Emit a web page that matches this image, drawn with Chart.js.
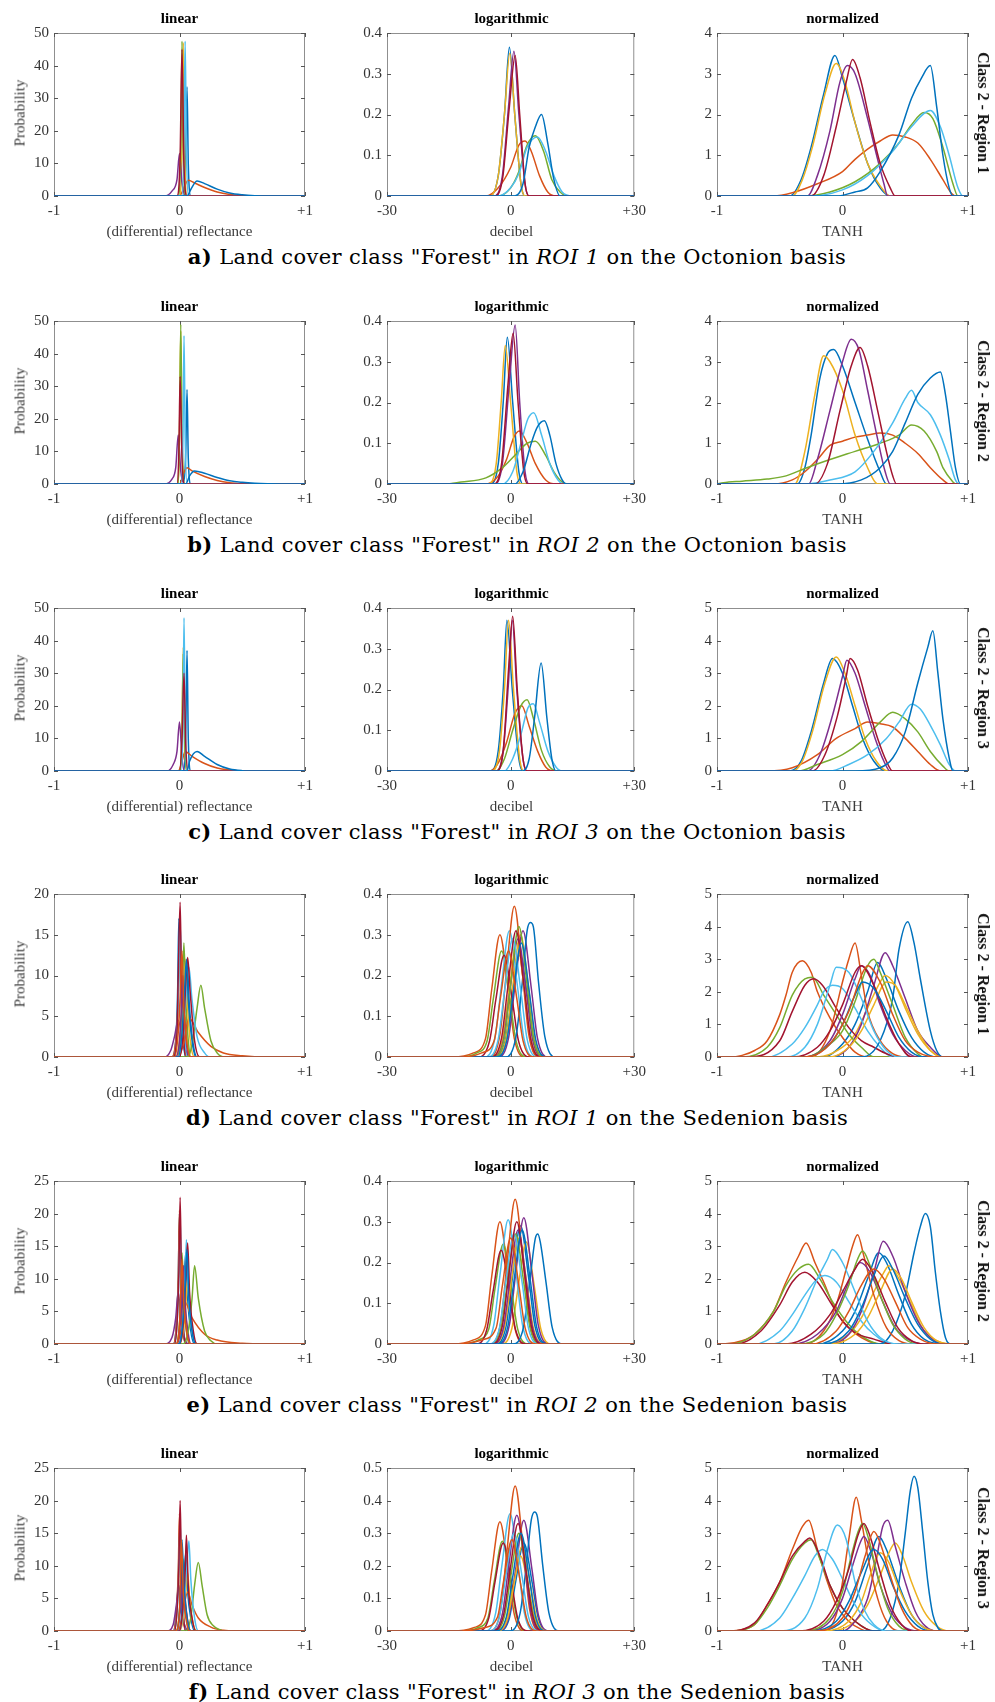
<!DOCTYPE html>
<html>
<head>
<meta charset="utf-8">
<script src="https://cdn.jsdelivr.net/npm/chart.js@4.4.1/dist/chart.umd.min.js"></script>
<style>
  body { margin: 0; background: #fff; }
  #page { position: relative; width: 995px; height: 1702px; overflow: hidden; }
  canvas { position: absolute; }
  .txt { position: absolute; transform: translate(-50%, -50%); white-space: nowrap;
         font-family: "Liberation Serif", "Times New Roman", serif; color: #222; }
  .ttl { font-weight: bold; font-size: 15px; color: #000; }
  .xl { font-size: 15px; color: #3a3a3a; }
  .yl { font-size: 15px; color: #3a3a3a; transform: translate(-50%, -50%) rotate(-90deg); }
  .rl { font-weight: bold; font-size: 16px; color: #111; transform: translate(-50%, -50%) rotate(90deg); }
  .cap { font-family: "DejaVu Serif", serif; font-size: 21px; letter-spacing: 0.4px; color: #000; }
</style>
</head>
<body>
<div id="page"></div>
<script>
// --- DATA: each curve is a flat list of key points [x, y, x, y, ...] ---
// curve order follows MATLAB colour order (blue, orange, yellow, purple, green, light blue, dark red, ...)

// a) ROI 1, Octonion
const linA = [
  [0.03,0, 0.05,12, 0.06,33.5, 0.07,10, 0.09,0],
  [0.0,0, 0.04,3, 0.07,4.8, 0.12,4, 0.2,2.6, 0.3,1.2, 0.4,0.45, 0.5,0.12, 0.6,0],
  [0.0,0, 0.02,15, 0.03,47, 0.04,15, 0.06,0],
  [-0.12,0, -0.06,1.5, -0.02,5, 0.0,13, 0.02,4, 0.05,0],
  [-0.01,0, 0.01,15, 0.02,47.5, 0.03,15, 0.05,0],
  [0.02,0, 0.035,15, 0.045,47.5, 0.055,15, 0.07,0],
  [-0.02,0, 0.005,12, 0.02,45, 0.035,10, 0.06,0],
  [0.06,0, 0.09,2, 0.14,4.6, 0.2,3.8, 0.3,2.1, 0.4,0.9, 0.5,0.35, 0.6,0.1, 0.7,0]
];
const logA = [
  [-5,0, -3,0.05, -1.5,0.2, -0.3,0.365, 1,0.2, 2.5,0.03, 3.5,0],
  [-6,0, -3,0.02, 0,0.07, 2,0.125, 3.5,0.135, 5,0.11, 7,0.05, 9,0.01, 11,0],
  [-5,0, -3,0.05, -1.5,0.2, -0.2,0.35, 1,0.2, 2.5,0.03, 3.5,0],
  [-4,0, -2,0.05, -0.5,0.22, 0.8,0.355, 2,0.2, 3.5,0.03, 4.5,0],
  [-3,0, 0,0.02, 2,0.06, 4,0.125, 6,0.148, 8,0.11, 10,0.04, 12,0.01, 14,0],
  [-3,0, 0,0.02, 2,0.055, 4,0.12, 6.5,0.145, 8.5,0.11, 10.5,0.05, 12.5,0.01, 15,0],
  [-4,0, -2,0.04, -0.3,0.22, 1.1,0.345, 2.2,0.2, 3.5,0.03, 4.5,0],
  [1,0, 3,0.03, 4.5,0.12, 6,0.17, 7.5,0.2, 9,0.13, 10.5,0.04, 12,0]
];
const nrmA = [
  [-0.42,0, -0.33,0.4, -0.25,1.2, -0.15,2.5, -0.06,3.45, 0.0,2.9, 0.1,1.8, 0.2,0.8, 0.3,0.2, 0.38,0],
  [-0.55,0, -0.4,0.08, -0.2,0.3, 0,0.6, 0.1,0.9, 0.2,1.15, 0.3,1.35, 0.4,1.5, 0.5,1.45, 0.6,1.3, 0.7,0.9, 0.8,0.4, 0.86,0.1, 0.9,0],
  [-0.4,0, -0.32,0.4, -0.24,1.2, -0.14,2.5, -0.05,3.25, 0.02,2.8, 0.1,1.8, 0.2,0.8, 0.3,0.25, 0.38,0],
  [-0.28,0, -0.2,0.5, -0.1,1.6, -0.02,2.8, 0.04,3.2, 0.1,3.0, 0.2,1.9, 0.28,0.9, 0.33,0.3, 0.36,0],
  [-0.3,0, -0.1,0.1, 0.1,0.35, 0.3,0.8, 0.45,1.3, 0.55,1.75, 0.65,2.05, 0.72,1.9, 0.8,1.2, 0.88,0.3, 0.92,0],
  [-0.25,0, 0,0.15, 0.2,0.5, 0.4,1.1, 0.55,1.7, 0.7,2.1, 0.78,1.7, 0.85,1.0, 0.92,0.2, 0.96,0],
  [-0.25,0, -0.15,0.5, -0.05,1.7, 0.03,2.8, 0.08,3.35, 0.14,2.9, 0.22,1.8, 0.3,0.8, 0.38,0.2, 0.42,0],
  [-0.05,0, 0.1,0.1, 0.2,0.2, 0.3,0.6, 0.45,1.5, 0.55,2.4, 0.63,2.9, 0.7,3.2, 0.75,2.2, 0.8,1.0, 0.85,0.2, 0.88,0]
];

// b) ROI 2, Octonion
const linB = [
  [0.03,0, 0.05,10, 0.06,29, 0.07,8, 0.09,0],
  [0.0,0, 0.03,3, 0.06,5, 0.1,4, 0.2,2.3, 0.3,1.1, 0.4,0.4, 0.5,0.1, 0.6,0],
  [-0.01,0, 0.0,15, 0.01,47, 0.02,15, 0.04,0],
  [-0.12,0, -0.06,1.5, -0.03,5, -0.01,15, 0.01,4, 0.04,0],
  [-0.01,0, 0.0,15, 0.01,49, 0.02,15, 0.04,0],
  [0.015,0, 0.028,15, 0.036,45.5, 0.045,15, 0.06,0],
  [-0.02,0, -0.005,10, 0.005,33, 0.02,8, 0.04,0],
  [0.05,0, 0.08,2.5, 0.12,4, 0.2,3.3, 0.3,2, 0.4,1, 0.5,0.5, 0.6,0.2, 0.7,0.05, 0.8,0]
];
const logB = [
  [-5,0, -3,0.05, -1.8,0.2, -0.8,0.36, 0.5,0.2, 2,0.03, 3,0],
  [-6,0, -3,0.02, -1,0.06, 0.8,0.115, 2.1,0.13, 4,0.1, 6,0.05, 8.5,0.01, 11,0],
  [-5.5,0, -3.5,0.05, -2.3,0.2, -1.3,0.34, 0,0.2, 1.5,0.03, 2.5,0],
  [-4,0, -2,0.05, -0.3,0.25, 1.1,0.39, 2.2,0.2, 3.5,0.03, 4.5,0],
  [-16,0, -12,0.005, -6,0.015, -2,0.04, 1,0.07, 4,0.1, 6,0.105, 8.5,0.07, 10.5,0.03, 12.5,0.005, 14,0],
  [-2,0, 0.5,0.03, 2.5,0.1, 4.2,0.16, 5.6,0.175, 7.5,0.12, 9.5,0.05, 11.5,0.01, 13,0],
  [-4,0, -2.2,0.05, -0.6,0.25, 0.6,0.37, 1.8,0.2, 3.2,0.03, 4.2,0],
  [1,0, 3,0.03, 5,0.1, 6.5,0.14, 8.2,0.155, 9.5,0.12, 11,0.05, 12.5,0.01, 13.5,0]
];
const nrmB = [
  [-0.36,0, -0.3,0.4, -0.25,1.2, -0.18,2.6, -0.12,3.2, -0.07,3.3, 0,2.9, 0.1,2.0, 0.2,1.1, 0.3,0.3, 0.35,0],
  [-0.55,0, -0.4,0.1, -0.3,0.3, -0.2,0.6, -0.1,0.95, 0,1.05, 0.1,1.15, 0.2,1.2, 0.3,1.25, 0.4,1.2, 0.5,1.0, 0.6,0.75, 0.7,0.4, 0.8,0.1, 0.85,0],
  [-0.38,0, -0.3,0.8, -0.22,2.2, -0.15,3.15, -0.1,3.0, 0,2.3, 0.1,1.2, 0.2,0.4, 0.28,0],
  [-0.27,0, -0.2,0.6, -0.1,1.8, 0.0,3.0, 0.07,3.55, 0.13,3.3, 0.2,2.3, 0.28,1.1, 0.34,0.3, 0.38,0],
  [-0.95,0.03, -0.8,0.07, -0.6,0.12, -0.45,0.2, -0.3,0.38, -0.1,0.6, 0.1,0.8, 0.3,1.0, 0.45,1.2, 0.55,1.45, 0.65,1.3, 0.75,0.8, 0.8,0.4, 0.88,0.05, 0.9,0],
  [-0.3,0, -0.1,0.1, 0.1,0.3, 0.25,0.8, 0.4,1.5, 0.5,2.1, 0.55,2.3, 0.6,2.0, 0.7,1.7, 0.78,1.2, 0.85,0.6, 0.9,0.1, 0.93,0],
  [-0.22,0, -0.12,0.5, -0.02,1.8, 0.07,2.9, 0.14,3.35, 0.2,2.9, 0.28,1.8, 0.35,0.8, 0.4,0.2, 0.43,0],
  [-0.05,0, 0.15,0.1, 0.3,0.4, 0.4,0.8, 0.5,1.5, 0.6,2.2, 0.7,2.6, 0.78,2.75, 0.82,2.2, 0.86,1.3, 0.9,0.4, 0.94,0]
];

// c) ROI 3, Octonion
const linC = [
  [0.03,0, 0.05,12, 0.06,37, 0.07,10, 0.09,0],
  [-0.01,0, 0.02,3, 0.045,6, 0.1,4.5, 0.2,2.3, 0.3,0.9, 0.4,0.3, 0.5,0],
  [0.0,0, 0.02,12, 0.03,38, 0.04,12, 0.06,0],
  [-0.1,0, -0.05,2, -0.02,6, 0.0,15, 0.02,4, 0.04,0],
  [0.0,0, 0.02,12, 0.03,36, 0.04,12, 0.06,0],
  [0.015,0, 0.028,15, 0.036,47, 0.045,15, 0.06,0],
  [0.0,0, 0.02,10, 0.036,30, 0.05,8, 0.07,0],
  [0.06,0, 0.08,3, 0.14,6, 0.2,4.5, 0.3,2, 0.4,0.6, 0.5,0.1, 0.6,0]
];
const logC = [
  [-5,0, -3,0.05, -1.8,0.2, -0.9,0.37, 0.4,0.2, 2,0.03, 3,0],
  [-5,0, -3,0.02, -1,0.07, 1,0.14, 2.7,0.16, 4.5,0.11, 6.5,0.05, 8.5,0.01, 10.5,0],
  [-4.5,0, -2.7,0.05, -1.5,0.2, -0.5,0.37, 0.7,0.2, 2.2,0.03, 3.2,0],
  [-3.5,0, -1.8,0.05, -0.5,0.22, 0.4,0.37, 1.5,0.2, 3,0.03, 4,0],
  [-3.5,0, -1.5,0.03, 0.5,0.1, 2.5,0.16, 4,0.175, 5.5,0.13, 7.5,0.05, 9.5,0.01, 11.5,0],
  [-1.5,0, 0.5,0.03, 2.5,0.09, 4.2,0.155, 5.5,0.165, 7,0.12, 9,0.05, 11,0.01, 12.5,0],
  [-3.5,0, -1.8,0.05, -0.5,0.25, 0.5,0.38, 1.6,0.2, 3,0.03, 4,0],
  [3,0, 4.5,0.03, 5.8,0.13, 7.4,0.265, 8.8,0.13, 10,0.03, 11,0]
];
const nrmC = [
  [-0.42,0, -0.33,0.3, -0.25,1.2, -0.15,2.7, -0.08,3.45, 0,3.0, 0.08,2.0, 0.16,1.0, 0.25,0.3, 0.35,0],
  [-0.6,0, -0.4,0.1, -0.2,0.5, -0.05,1.0, 0.1,1.3, 0.2,1.5, 0.3,1.45, 0.4,1.35, 0.5,1.0, 0.6,0.6, 0.7,0.2, 0.78,0],
  [-0.4,0, -0.32,0.3, -0.24,1.2, -0.14,2.7, -0.05,3.5, 0.02,3.0, 0.1,2.0, 0.18,1.0, 0.27,0.3, 0.36,0],
  [-0.28,0, -0.18,0.5, -0.08,1.7, 0,2.9, 0.035,3.4, 0.1,3.0, 0.18,2.0, 0.26,1.0, 0.33,0.3, 0.38,0],
  [-0.35,0, -0.2,0.2, 0,0.5, 0.15,0.9, 0.3,1.5, 0.4,1.8, 0.5,1.6, 0.6,1.2, 0.7,0.6, 0.8,0.15, 0.85,0],
  [-0.1,0, 0.05,0.2, 0.2,0.5, 0.35,1.0, 0.45,1.5, 0.55,2.05, 0.62,1.9, 0.7,1.4, 0.78,0.8, 0.85,0.2, 0.9,0],
  [-0.24,0, -0.14,0.5, -0.04,1.7, 0.03,2.9, 0.06,3.45, 0.12,3.1, 0.2,2.0, 0.28,1.0, 0.35,0.3, 0.4,0],
  [0.1,0, 0.3,0.1, 0.4,0.4, 0.5,1.2, 0.6,2.7, 0.68,3.8, 0.72,4.3, 0.76,3.0, 0.8,1.6, 0.85,0.4, 0.88,0]
];

// d) ROI 1, Sedenion
const linD = [
  [-0.06,0, -0.03,2, -0.015,8, -0.005,17, 0.01,8, 0.03,2, 0.05,0],
  [-0.06,0, -0.03,2, -0.01,7, 0.0,13.5, 0.015,7, 0.035,2, 0.06,0],
  [-0.03,0, 0.0,2, 0.02,6, 0.03,10, 0.045,5, 0.07,1, 0.09,0],
  [-0.12,0, -0.07,0.8, -0.04,2.5, -0.01,4.5, 0.02,2.5, 0.05,0.8, 0.08,0],
  [-0.02,0, 0.01,3, 0.025,9, 0.035,14, 0.05,7, 0.07,2, 0.09,0],
  [-0.05,0, -0.02,3, -0.005,10, 0.005,16.3, 0.02,9, 0.04,3, 0.06,0],
  [-0.05,0, -0.02,3, -0.01,10, 0.005,19, 0.015,10, 0.03,3, 0.05,0],
  [-0.01,0, 0.02,3, 0.04,8, 0.06,11.5, 0.08,6, 0.11,1.5, 0.14,0],
  [-0.01,0, 0.03,1.5, 0.075,4.8, 0.15,3, 0.25,1.3, 0.35,0.5, 0.5,0.15, 0.7,0],
  [-0.01,0, 0.02,3, 0.04,9, 0.05,12, 0.065,6, 0.09,1.5, 0.12,0],
  [-0.03,0, 0.0,2, 0.015,6, 0.025,10, 0.04,5, 0.06,1, 0.08,0],
  [0.06,0, 0.1,1.5, 0.14,6, 0.17,8.8, 0.2,6, 0.25,2, 0.3,0.5, 0.36,0],
  [-0.01,0, 0.02,2, 0.05,7, 0.075,11, 0.1,7, 0.14,2.5, 0.2,0.5, 0.24,0],
  [0.0,0, 0.03,3, 0.05,9, 0.065,12.2, 0.085,8, 0.12,2, 0.16,0],
  [-0.01,0, 0.02,3, 0.04,8, 0.055,12, 0.07,7, 0.1,2, 0.13,0],
  [-0.04,0, -0.01,3, 0.01,9, 0.02,13, 0.035,6, 0.06,1.5, 0.09,0]
];
const logD = [
  [-3.8,0, -1.3,0.04, 0.2,0.14, 2.2,0.25, 4.2,0.14, 5.7,0.04, 8.2,0],
  [-14,0, -9,0.01, -6.1,0.045, -4.6,0.165, -2.6,0.30, -0.6,0.165, 0.9,0.045, 3.4,0],
  [-3.6,0, -1.1,0.045, 0.4,0.165, 2.4,0.30, 4.4,0.165, 5.9,0.045, 8.4,0],
  [-3,0, -0.5,0.047, 1,0.17, 3,0.31, 5,0.17, 6.5,0.047, 9,0],
  [-12,0, -8.2,0.01, -5.7,0.04, -4.2,0.143, -2.2,0.26, -0.2,0.143, 1.3,0.04, 3.8,0],
  [-6.3,0, -3.8,0.047, -2.3,0.17, -0.3,0.31, 1.7,0.17, 3.2,0.047, 5.7,0],
  [-7.6,0, -5.1,0.04, -3.6,0.14, -1.6,0.25, 0.4,0.14, 1.9,0.04, 4.4,0],
  [-1.2,0, 1.3,0.05, 2.8,0.18, 4,0.31, 4.8,0.33, 5.5,0.32, 6.8,0.18, 8.3,0.05, 10.8,0],
  [-5.1,0, -2.6,0.055, -1.1,0.2, 0.9,0.37, 2.9,0.2, 4.4,0.055, 6.9,0],
  [-4.5,0, -2,0.042, -0.5,0.154, 1.5,0.28, 3.5,0.154, 5,0.042, 7.5,0],
  [-4.2,0, -1.7,0.044, -0.2,0.16, 1.8,0.29, 3.8,0.16, 5.3,0.044, 7.8,0],
  [-4,0, -1.5,0.048, 0,0.176, 2,0.32, 4,0.176, 5.5,0.048, 8,0],
  [-5.5,0, -3,0.044, -1.5,0.16, 0.5,0.29, 2.5,0.16, 4,0.044, 6.5,0],
  [-4.7,0, -2.2,0.047, -0.7,0.17, 1.3,0.31, 3.3,0.17, 4.8,0.047, 7.3,0],
  [-3.4,0, -0.9,0.042, 0.6,0.154, 2.6,0.28, 4.6,0.154, 6.1,0.042, 8.6,0],
  [-12,0, -7,0.01, -4,0.04, -2.5,0.143, -0.5,0.26, 1.5,0.143, 3,0.04, 5.5,0]
];
const nrmD = [
  [-0.15,0, 0,0.4, 0.1,1.0, 0.2,2.0, 0.28,2.9, 0.35,2.4, 0.45,1.4, 0.55,0.6, 0.65,0.15, 0.75,0],
  [-0.9,0, -0.8,0.05, -0.7,0.2, -0.6,0.5, -0.5,1.3, -0.45,1.9, -0.4,2.6, -0.32,2.95, -0.25,2.6, -0.2,2.0, -0.1,1.2, 0,0.6, 0.1,0.15, 0.2,0],
  [-0.2,0, 0,0.3, 0.1,0.7, 0.2,1.5, 0.3,2.3, 0.34,2.5, 0.42,2.2, 0.5,1.5, 0.6,0.7, 0.7,0.2, 0.8,0],
  [-0.1,0, 0.05,0.3, 0.15,1.0, 0.25,2.2, 0.34,3.2, 0.4,2.8, 0.5,1.8, 0.6,0.8, 0.7,0.3, 0.8,0],
  [-0.8,0, -0.6,0.3, -0.5,0.9, -0.4,1.9, -0.3,2.4, -0.24,2.45, -0.15,1.9, -0.05,1.3, 0.05,0.7, 0.15,0.3, 0.25,0],
  [-0.6,0, -0.4,0.4, -0.3,0.9, -0.2,1.6, -0.15,2.0, -0.08,2.2, 0,2.1, 0.1,1.5, 0.2,0.8, 0.3,0.3, 0.4,0],
  [-0.75,0, -0.5,0.5, -0.4,1.4, -0.3,2.2, -0.23,2.4, -0.16,2.2, -0.05,1.5, 0.05,0.9, 0.15,0.5, 0.25,0.3, 0.35,0.1, 0.45,0],
  [0.15,0, 0.3,0.5, 0.4,1.8, 0.45,3.3, 0.52,4.15, 0.57,3.5, 0.62,2.4, 0.7,0.8, 0.75,0.2, 0.8,0],
  [-0.25,0, -0.1,0.8, 0,2.3, 0.05,3.0, 0.1,3.5, 0.15,2.5, 0.2,1.4, 0.3,0.5, 0.4,0.1, 0.5,0],
  [-0.1,0, 0.05,0.3, 0.15,0.8, 0.25,1.6, 0.35,2.3, 0.42,2.2, 0.5,1.6, 0.6,0.8, 0.7,0.2, 0.8,0],
  [-0.3,0, -0.1,0.5, 0,1.3, 0.1,2.4, 0.15,2.8, 0.22,2.5, 0.3,1.6, 0.4,0.7, 0.5,0.2, 0.6,0],
  [-0.3,0, -0.1,0.4, 0,0.8, 0.1,1.7, 0.2,2.8, 0.25,3.0, 0.3,2.6, 0.4,1.6, 0.5,0.6, 0.6,0.1, 0.65,0],
  [-0.45,0, -0.3,0.3, -0.2,1.0, -0.1,2.2, -0.05,2.75, 0.05,2.6, 0.15,1.8, 0.25,0.8, 0.35,0.2, 0.45,0],
  [-0.4,0, -0.2,0.3, -0.1,0.8, 0,1.6, 0.1,2.6, 0.15,2.8, 0.25,2.2, 0.35,1.2, 0.45,0.4, 0.55,0],
  [-0.3,0, -0.1,0.4, 0,1.0, 0.1,1.9, 0.16,2.3, 0.25,2.1, 0.35,1.4, 0.45,0.6, 0.55,0.15, 0.65,0],
  [-0.3,0, -0.1,0.4, 0.05,1.4, 0.15,2.5, 0.2,2.8, 0.3,2.3, 0.4,1.3, 0.5,0.5, 0.6,0.15, 0.75,0]
];

// e) ROI 2, Sedenion
const linE = [
  [-0.05,0, -0.025,3, -0.01,10, 0.0,20, 0.01,10, 0.025,3, 0.05,0],
  [-0.05,0, -0.025,3, -0.01,10, 0.0,20.5, 0.01,10, 0.025,3, 0.05,0],
  [-0.02,0, 0.0,3, 0.02,8, 0.03,12, 0.045,6, 0.07,1, 0.09,0],
  [-0.12,0, -0.06,1, -0.03,4, -0.01,8, 0.01,4, 0.04,1, 0.07,0],
  [-0.03,0, 0.0,3, 0.012,9, 0.02,14, 0.035,7, 0.055,2, 0.08,0],
  [-0.04,0, -0.02,3, -0.005,10, 0.005,19.5, 0.015,10, 0.03,3, 0.05,0],
  [-0.04,0, -0.02,3, -0.005,11, 0.005,22.5, 0.015,11, 0.03,3, 0.05,0],
  [-0.01,0, 0.02,3, 0.035,9, 0.05,14, 0.065,7, 0.09,2, 0.12,0],
  [-0.02,0, 0.01,2, 0.04,6.5, 0.1,4, 0.2,1.5, 0.3,0.6, 0.5,0.1, 0.7,0],
  [0.0,0, 0.03,2, 0.05,6, 0.065,10, 0.08,5, 0.11,1, 0.14,0],
  [-0.02,0, 0.0,2, 0.02,7, 0.03,12, 0.045,6, 0.07,1.5, 0.09,0],
  [0.03,0, 0.07,2, 0.1,7, 0.12,12, 0.15,7, 0.2,2, 0.25,0.5, 0.3,0],
  [0.0,0, 0.025,3, 0.045,10, 0.055,16, 0.07,8, 0.1,2, 0.13,0],
  [0.0,0, 0.03,3, 0.05,10, 0.065,15.5, 0.08,8, 0.11,2, 0.14,0],
  [0.0,0, 0.025,3, 0.045,9, 0.06,14.5, 0.075,7, 0.1,2, 0.13,0],
  [-0.03,0, 0.0,3, 0.012,9, 0.02,13, 0.035,6, 0.06,1.5, 0.09,0]
];
const logE = [
  [-3.6,0, -1.1,0.044, 0.4,0.16, 2.4,0.29, 4.4,0.16, 5.9,0.044, 8.4,0],
  [-14,0, -9,0.01, -6.1,0.045, -4.6,0.165, -2.6,0.30, -0.6,0.165, 0.9,0.045, 3.4,0],
  [-2.2,0, 0.3,0.038, 1.8,0.138, 3.8,0.25, 5.8,0.138, 7.3,0.038, 9.8,0],
  [-2.8,0, -0.3,0.047, 1.2,0.17, 3.2,0.31, 5.2,0.17, 6.7,0.047, 9.2,0],
  [-12,0, -7.8,0.01, -5.3,0.037, -3.8,0.135, -1.8,0.245, 0.2,0.135, 1.7,0.037, 4.2,0],
  [-6.6,0, -4.1,0.046, -2.6,0.168, -0.6,0.305, 1.4,0.168, 2.9,0.046, 5.4,0],
  [-8.3,0, -5.8,0.035, -4.3,0.127, -2.3,0.23, -0.3,0.127, 1.2,0.035, 3.7,0],
  [0.6,0, 3.1,0.04, 4.6,0.15, 6,0.26, 6.6,0.27, 7.2,0.25, 8.6,0.15, 10.1,0.04, 12.6,0],
  [-4.9,0, -2.4,0.053, -0.9,0.195, 1.1,0.355, 3.1,0.195, 4.6,0.053, 7.1,0],
  [-4,0, -1.5,0.04, 0,0.143, 2,0.26, 4,0.143, 5.5,0.04, 8,0],
  [-4.2,0, -1.7,0.042, -0.2,0.154, 1.8,0.28, 3.8,0.154, 5.3,0.042, 7.8,0],
  [-4.8,0, -2.3,0.04, -0.8,0.15, 1.2,0.27, 3.2,0.15, 4.7,0.04, 7.2,0],
  [-5.2,0, -2.7,0.04, -1.2,0.15, 0.8,0.27, 2.8,0.15, 4.3,0.04, 6.8,0],
  [-4.5,0, -2,0.045, -0.5,0.165, 1.5,0.30, 3.5,0.165, 5,0.045, 7.5,0],
  [-3.2,0, -0.7,0.042, 0.8,0.154, 2.8,0.28, 4.8,0.154, 6.3,0.042, 8.8,0],
  [-13,0, -7,0.01, -3.5,0.04, -2,0.143, 0,0.26, 2,0.143, 3.5,0.04, 6,0]
];
const nrmE = [
  [-0.2,0, 0,0.4, 0.1,1.0, 0.2,2.0, 0.29,2.8, 0.35,2.5, 0.45,1.5, 0.55,0.6, 0.65,0.15, 0.8,0],
  [-0.95,0, -0.8,0.1, -0.7,0.3, -0.55,1.0, -0.45,1.9, -0.35,2.7, -0.29,3.1, -0.22,2.5, -0.15,1.9, -0.05,1.0, 0.05,0.5, 0.15,0.2, 0.3,0],
  [-0.15,0, 0.05,0.3, 0.15,0.8, 0.25,1.6, 0.33,2.2, 0.37,2.4, 0.45,2.0, 0.55,1.2, 0.65,0.4, 0.75,0.1, 0.85,0],
  [-0.1,0, 0.05,0.3, 0.15,1.0, 0.25,2.2, 0.325,3.15, 0.4,2.7, 0.5,1.6, 0.6,0.7, 0.7,0.2, 0.8,0],
  [-0.9,0, -0.7,0.3, -0.55,1.0, -0.45,1.8, -0.35,2.3, -0.27,2.45, -0.18,2.0, -0.08,1.3, 0.05,0.6, 0.15,0.25, 0.3,0],
  [-0.7,0, -0.5,0.4, -0.4,0.9, -0.3,1.5, -0.2,2.0, -0.14,2.1, -0.05,1.9, 0.05,1.3, 0.15,0.7, 0.25,0.3, 0.4,0],
  [-0.85,0, -0.65,0.4, -0.5,1.2, -0.4,1.9, -0.3,2.2, -0.2,1.9, -0.1,1.3, 0,0.7, 0.1,0.35, 0.25,0.15, 0.4,0],
  [0.3,0, 0.4,0.4, 0.5,1.5, 0.57,2.8, 0.62,3.6, 0.66,4.0, 0.7,3.6, 0.74,2.2, 0.78,1.0, 0.82,0.2, 0.86,0],
  [-0.3,0, -0.15,0.4, -0.05,1.2, 0.03,2.3, 0.08,3.0, 0.12,3.35, 0.17,2.7, 0.25,1.5, 0.35,0.5, 0.45,0.1, 0.55,0],
  [-0.1,0, 0.1,0.3, 0.2,0.8, 0.3,1.6, 0.4,2.3, 0.47,2.0, 0.55,1.3, 0.65,0.5, 0.75,0.1, 0.85,0],
  [-0.4,0, -0.2,0.3, -0.05,1.0, 0.05,1.9, 0.14,2.5, 0.22,2.2, 0.32,1.3, 0.42,0.5, 0.52,0.15, 0.65,0],
  [-0.35,0, -0.15,0.3, -0.05,0.9, 0.05,1.8, 0.12,2.6, 0.16,2.85, 0.22,2.4, 0.3,1.5, 0.4,0.6, 0.5,0.15, 0.6,0],
  [-0.55,0, -0.4,0.4, -0.3,1.1, -0.2,2.0, -0.12,2.6, -0.08,2.9, 0,2.5, 0.1,1.6, 0.2,0.7, 0.3,0.2, 0.45,0],
  [-0.45,0, -0.25,0.3, -0.1,0.9, 0,1.6, 0.1,2.3, 0.16,2.6, 0.24,2.2, 0.34,1.3, 0.44,0.5, 0.55,0.1, 0.65,0],
  [-0.15,0, 0.05,0.4, 0.15,1.1, 0.25,2.1, 0.33,2.7, 0.4,2.3, 0.5,1.4, 0.6,0.6, 0.7,0.15, 0.8,0],
  [-0.25,0, -0.05,0.4, 0.05,1.0, 0.15,1.8, 0.25,2.3, 0.33,2.0, 0.42,1.3, 0.52,0.5, 0.62,0.15, 0.75,0]
];

// f) ROI 3, Sedenion
const linF = [
  [-0.05,0, -0.025,3, -0.01,8, 0.0,15, 0.01,8, 0.025,3, 0.05,0],
  [-0.05,0, -0.025,3, -0.01,9, 0.0,18, 0.01,9, 0.025,3, 0.05,0],
  [-0.02,0, 0.0,3, 0.02,7, 0.03,11, 0.045,5, 0.07,1, 0.09,0],
  [-0.1,0, -0.05,1, -0.025,4, -0.005,7, 0.015,3, 0.04,1, 0.07,0],
  [-0.03,0, 0.0,3, 0.012,8, 0.02,12, 0.035,6, 0.055,2, 0.08,0],
  [-0.04,0, -0.02,3, -0.005,9, 0.005,17, 0.015,9, 0.03,3, 0.05,0],
  [-0.04,0, -0.02,3, -0.005,10, 0.005,20, 0.015,10, 0.03,3, 0.05,0],
  [-0.01,0, 0.02,3, 0.035,8, 0.05,12, 0.065,6, 0.09,2, 0.12,0],
  [-0.01,0, 0.02,2, 0.065,6, 0.1,4, 0.15,2, 0.25,0.6, 0.35,0.1, 0.45,0],
  [0.0,0, 0.03,2, 0.05,6, 0.065,9, 0.08,5, 0.11,1, 0.14,0],
  [-0.02,0, 0.0,2, 0.02,6, 0.03,10, 0.045,5, 0.07,1, 0.09,0],
  [0.05,0, 0.09,2, 0.12,7, 0.15,10.5, 0.18,7, 0.22,2.5, 0.27,0.8, 0.32,0.2, 0.36,0],
  [0.0,0, 0.03,3, 0.055,9, 0.075,13.8, 0.09,8, 0.12,2, 0.15,0],
  [0.0,0, 0.025,3, 0.045,9, 0.055,14.7, 0.07,7, 0.1,2, 0.13,0],
  [-0.02,0, 0.0,3, 0.01,8, 0.02,14, 0.035,7, 0.06,2, 0.09,0],
  [-0.03,0, 0.0,3, 0.008,9, 0.015,14, 0.03,6, 0.055,1.5, 0.08,0]
];
const logF = [
  [-2.8,0, -0.3,0.04, 1.2,0.15, 3.2,0.27, 5.2,0.15, 6.7,0.04, 9.2,0],
  [-14,0, -9,0.01, -6.1,0.05, -4.6,0.184, -2.6,0.335, -0.6,0.184, 0.9,0.05, 3.4,0],
  [-3.6,0, -1.1,0.035, 0.4,0.127, 2.4,0.23, 4.4,0.127, 5.9,0.035, 8.4,0],
  [-2.8,0, -0.3,0.051, 1.2,0.187, 3.2,0.34, 5.2,0.187, 6.7,0.051, 9.2,0],
  [-12,0, -8,0.01, -5.5,0.041, -4,0.151, -2,0.275, 0,0.151, 1.5,0.041, 4,0],
  [-6.15,0, -3.65,0.054, -2.15,0.198, -0.15,0.36, 1.85,0.198, 3.35,0.054, 5.85,0],
  [-7.8,0, -5.3,0.04, -3.8,0.15, -1.8,0.27, 0.2,0.15, 1.7,0.04, 4.2,0],
  [-0.2,0, 2.3,0.055, 3.8,0.2, 5,0.34, 5.8,0.365, 6.5,0.35, 7.8,0.2, 9.3,0.055, 11.8,0],
  [-4.9,0, -2.4,0.067, -0.9,0.245, 1.1,0.445, 3.1,0.245, 4.6,0.067, 7.1,0],
  [-3.2,0, -0.7,0.04, 0.8,0.143, 2.8,0.26, 4.8,0.143, 6.3,0.04, 8.8,0],
  [-4.5,0, -2,0.053, -0.5,0.195, 1.5,0.355, 3.5,0.195, 5,0.053, 7.5,0],
  [-4,0, -1.5,0.045, 0,0.165, 2,0.3, 4,0.165, 5.5,0.045, 8,0],
  [-5.2,0, -2.7,0.045, -1.2,0.165, 0.8,0.3, 2.8,0.165, 4.3,0.045, 6.8,0],
  [-4.2,0, -1.7,0.05, -0.2,0.18, 1.8,0.33, 3.8,0.18, 5.3,0.05, 7.8,0],
  [-3.5,0, -1,0.045, 0.5,0.165, 2.5,0.3, 4.5,0.165, 6,0.045, 8.5,0],
  [-12,0, -6.5,0.01, -3.2,0.042, -1.7,0.154, 0.3,0.28, 2.3,0.154, 3.8,0.042, 6.3,0]
];
const nrmF = [
  [-0.2,0, 0,0.3, 0.1,0.9, 0.2,2.0, 0.29,2.9, 0.35,2.5, 0.45,1.4, 0.55,0.5, 0.65,0.1, 0.75,0],
  [-0.95,0, -0.8,0.05, -0.7,0.2, -0.6,0.8, -0.5,1.5, -0.4,2.5, -0.32,3.2, -0.27,3.4, -0.2,2.5, -0.12,1.5, -0.05,0.8, 0.05,0.3, 0.15,0.05, 0.2,0],
  [-0.1,0, 0.1,0.3, 0.2,0.8, 0.3,1.7, 0.37,2.4, 0.42,2.7, 0.48,2.3, 0.55,1.5, 0.65,0.6, 0.75,0.15, 0.85,0],
  [0,0, 0.1,0.3, 0.2,1.0, 0.27,2.2, 0.32,3.2, 0.36,3.4, 0.42,2.6, 0.5,1.5, 0.58,0.6, 0.66,0.15, 0.75,0],
  [-0.9,0, -0.7,0.2, -0.6,0.7, -0.5,1.4, -0.4,2.2, -0.3,2.7, -0.25,2.8, -0.18,2.2, -0.1,1.4, 0,0.7, 0.1,0.3, 0.25,0],
  [-0.7,0, -0.5,0.4, -0.4,1.0, -0.3,1.7, -0.22,2.3, -0.16,2.5, -0.08,2.2, 0,1.6, 0.1,0.8, 0.2,0.3, 0.35,0],
  [-0.9,0, -0.7,0.25, -0.6,0.8, -0.5,1.5, -0.4,2.3, -0.3,2.75, -0.26,2.85, -0.18,2.3, -0.1,1.4, 0,0.7, 0.1,0.3, 0.25,0],
  [0.3,0, 0.38,0.4, 0.45,1.5, 0.5,3.0, 0.54,4.3, 0.57,4.75, 0.6,4.4, 0.64,3.0, 0.68,1.5, 0.72,0.5, 0.76,0.1, 0.8,0],
  [-0.15,0, -0.05,0.5, 0,1.5, 0.05,2.8, 0.11,4.1, 0.15,3.4, 0.2,2.3, 0.28,1.0, 0.35,0.3, 0.45,0],
  [-0.15,0, 0.05,0.3, 0.15,0.9, 0.22,1.7, 0.3,2.4, 0.37,2.1, 0.45,1.3, 0.55,0.5, 0.65,0.1, 0.75,0],
  [-0.3,0, -0.1,0.3, 0,1.0, 0.08,2.0, 0.14,2.7, 0.17,2.9, 0.23,2.4, 0.3,1.4, 0.4,0.5, 0.5,0.1, 0.6,0],
  [-0.3,0, -0.1,0.4, 0,1.2, 0.07,2.3, 0.12,3.0, 0.16,3.3, 0.21,2.8, 0.28,1.7, 0.36,0.7, 0.45,0.15, 0.55,0],
  [-0.5,0, -0.3,0.4, -0.2,1.3, -0.12,2.5, -0.04,3.25, 0.03,2.8, 0.1,1.5, 0.18,0.6, 0.25,0.2, 0.35,0],
  [-0.35,0, -0.15,0.3, -0.05,0.9, 0.05,1.9, 0.12,2.9, 0.17,3.3, 0.22,2.9, 0.3,1.8, 0.38,0.8, 0.47,0.2, 0.55,0],
  [-0.25,0, -0.05,0.3, 0.05,0.9, 0.15,1.8, 0.25,2.5, 0.32,2.2, 0.4,1.4, 0.5,0.6, 0.6,0.15, 0.7,0],
  [-0.2,0, 0,0.4, 0.1,1.2, 0.18,2.3, 0.25,3.05, 0.3,2.7, 0.38,1.7, 0.47,0.7, 0.56,0.15, 0.65,0]
];

// axis limits and tick labels per row
const linYMax  = [50, 50, 50, 20, 25, 25];
const linYStep = [10, 10, 10, 5, 5, 5];
const logYMax  = [0.4, 0.4, 0.4, 0.4, 0.4, 0.5];
const nrmYMax  = [4, 4, 5, 5, 5, 5];
const unitTicks = ['-1', '0', '+1'];
const dbTicks   = ['-30', '0', '+30'];
const panelTitles = ['linear', 'logarithmic', 'normalized'];
const xLabels = ['(differential) reflectance', 'decibel', 'TANH'];
const captionTags = ['a)', 'b)', 'c)', 'd)', 'e)', 'f)'];
const roiNames = ['ROI 1', 'ROI 2', 'ROI 3', 'ROI 1', 'ROI 2', 'ROI 3'];
const basisNames = ['Octonion', 'Octonion', 'Octonion', 'Sedenion', 'Sedenion', 'Sedenion'];
const regionLabels = ['Class 2 - Region 1', 'Class 2 - Region 2', 'Class 2 - Region 3',
                      'Class 2 - Region 1', 'Class 2 - Region 2', 'Class 2 - Region 3'];

const linData = [linA, linB, linC, linD, linE, linF];
const logData = [logA, logB, logC, logD, logE, logF];
const nrmData = [nrmA, nrmB, nrmC, nrmD, nrmE, nrmF];

const colors = ['#0072BD', '#D95319', '#EDB120', '#7E2F8E', '#77AC30', '#4DBEEE', '#A2142F'];

// --- LAYOUT ---
const colLeft = [54, 387, 717];
const colWidth = [251, 249, 251];
const rowTop = [29, 317, 604, 890, 1177, 1464];
const axH = 167;
const padL = 50, padT = 10, padR = 16, padB = 30;

const page = document.getElementById('page');

function addText(cls, html, x, y) {
    const d = document.createElement('div');
    d.className = 'txt ' + cls;
    d.innerHTML = html;
    d.style.left = x + 'px';
    d.style.top = y + 'px';
    page.appendChild(d);
}

// curve key points -> chart points, with the zero baseline out to the axis ends
function toPoints(flat, xmin, xmax) {
    const p = [];
    if (flat[0] > xmin) p.push({ x: xmin, y: 0 });
    for (let i = 0; i < flat.length; i += 2) p.push({ x: flat[i], y: flat[i + 1] });
    if (flat[flat.length - 2] < xmax) p.push({ x: xmax, y: 0 });
    return p;
}

// box around the axes and inward tick marks on all four sides
const boxPlugin = {
    id: 'matlabBox',
    beforeDatasetsDraw(chart) {
        const { ctx, chartArea: a, scales } = chart;
        ctx.save();
        ctx.strokeStyle = '#8f8f8f';
        ctx.lineWidth = 1;
        ctx.strokeRect(a.left + 0.5, a.top + 0.5, a.right - a.left - 1, a.bottom - a.top - 1);
        ctx.strokeStyle = '#555';
        ctx.beginPath();
        scales.x.ticks.forEach(t => {
            const px = Math.round(scales.x.getPixelForValue(t.value)) + 0.5;
            ctx.moveTo(px, a.bottom); ctx.lineTo(px, a.bottom - 4);
            ctx.moveTo(px, a.top); ctx.lineTo(px, a.top + 4);
        });
        scales.y.ticks.forEach(t => {
            const py = Math.round(scales.y.getPixelForValue(t.value)) + 0.5;
            ctx.moveTo(a.left, py); ctx.lineTo(a.left + 4, py);
            ctx.moveTo(a.right, py); ctx.lineTo(a.right - 4, py);
        });
        ctx.stroke();
        ctx.restore();
    }
};

const tickFont = { family: '"Liberation Serif", "Times New Roman", serif', size: 15 };

function makePanel(r, c, curves, xmin, xmax, xTickLabels, ymax, ystep) {
    const L = colLeft[c], W = colWidth[c], T = rowTop[r];
    const canvas = document.createElement('canvas');
    canvas.width = W + padL + padR;
    canvas.height = axH + padT + padB;
    canvas.style.left = (L - padL) + 'px';
    canvas.style.top = (T - padT) + 'px';
    page.appendChild(canvas);

    const datasets = curves.map((cv, i) => ({
        data: toPoints(cv, xmin, xmax),
        borderColor: colors[i % colors.length],
        borderWidth: 1.5,
        pointRadius: 0,
        showLine: true,
        fill: false,
        cubicInterpolationMode: 'monotone',
        order: -i
    }));

    new Chart(canvas.getContext('2d'), {
        type: 'scatter',
        data: { datasets },
        options: {
            responsive: false,
            animation: false,
            events: [],
            layout: { padding: { left: 0, top: padT, right: padR, bottom: 0 } },
            plugins: { legend: { display: false }, tooltip: { enabled: false } },
            scales: {
                x: {
                    type: 'linear', min: xmin, max: xmax,
                    grid: { display: false, drawTicks: false },
                    border: { display: false },
                    ticks: {
                        stepSize: xmax, autoSkip: false, maxRotation: 0,
                        font: tickFont, color: '#333', padding: 6,
                        callback: (v, i) => xTickLabels[i]
                    },
                    afterFit: s => { s.height = padB; }
                },
                y: {
                    type: 'linear', min: 0, max: ymax,
                    grid: { display: false, drawTicks: false },
                    border: { display: false },
                    ticks: { stepSize: ystep, font: tickFont, color: '#333', padding: 5 },
                    afterFit: s => { s.width = padL; }
                }
            }
        },
        plugins: [boxPlugin]
    });

    addText('ttl', panelTitles[c], L + W / 2, T - 11);
    addText('xl', xLabels[c], L + W / 2, T + axH + 35);
}

for (let r = 0; r < 6; r++) {
    makePanel(r, 0, linData[r], -1, 1, unitTicks, linYMax[r], linYStep[r]);
    makePanel(r, 1, logData[r], -30, 30, dbTicks, logYMax[r], 0.1);
    makePanel(r, 2, nrmData[r], -1, 1, unitTicks, nrmYMax[r], 1);

    addText('yl', 'Probability', 20, rowTop[r] + axH / 2);
    addText('rl', regionLabels[r], 983, rowTop[r] + axH / 2);
    addText('cap', '<b>' + captionTags[r] + '</b> Land cover class "Forest" in <i>' + roiNames[r] +
            '</i> on the ' + basisNames[r] + ' basis', 517, rowTop[r] + axH + 60);
}
</script>
</body>
</html>
